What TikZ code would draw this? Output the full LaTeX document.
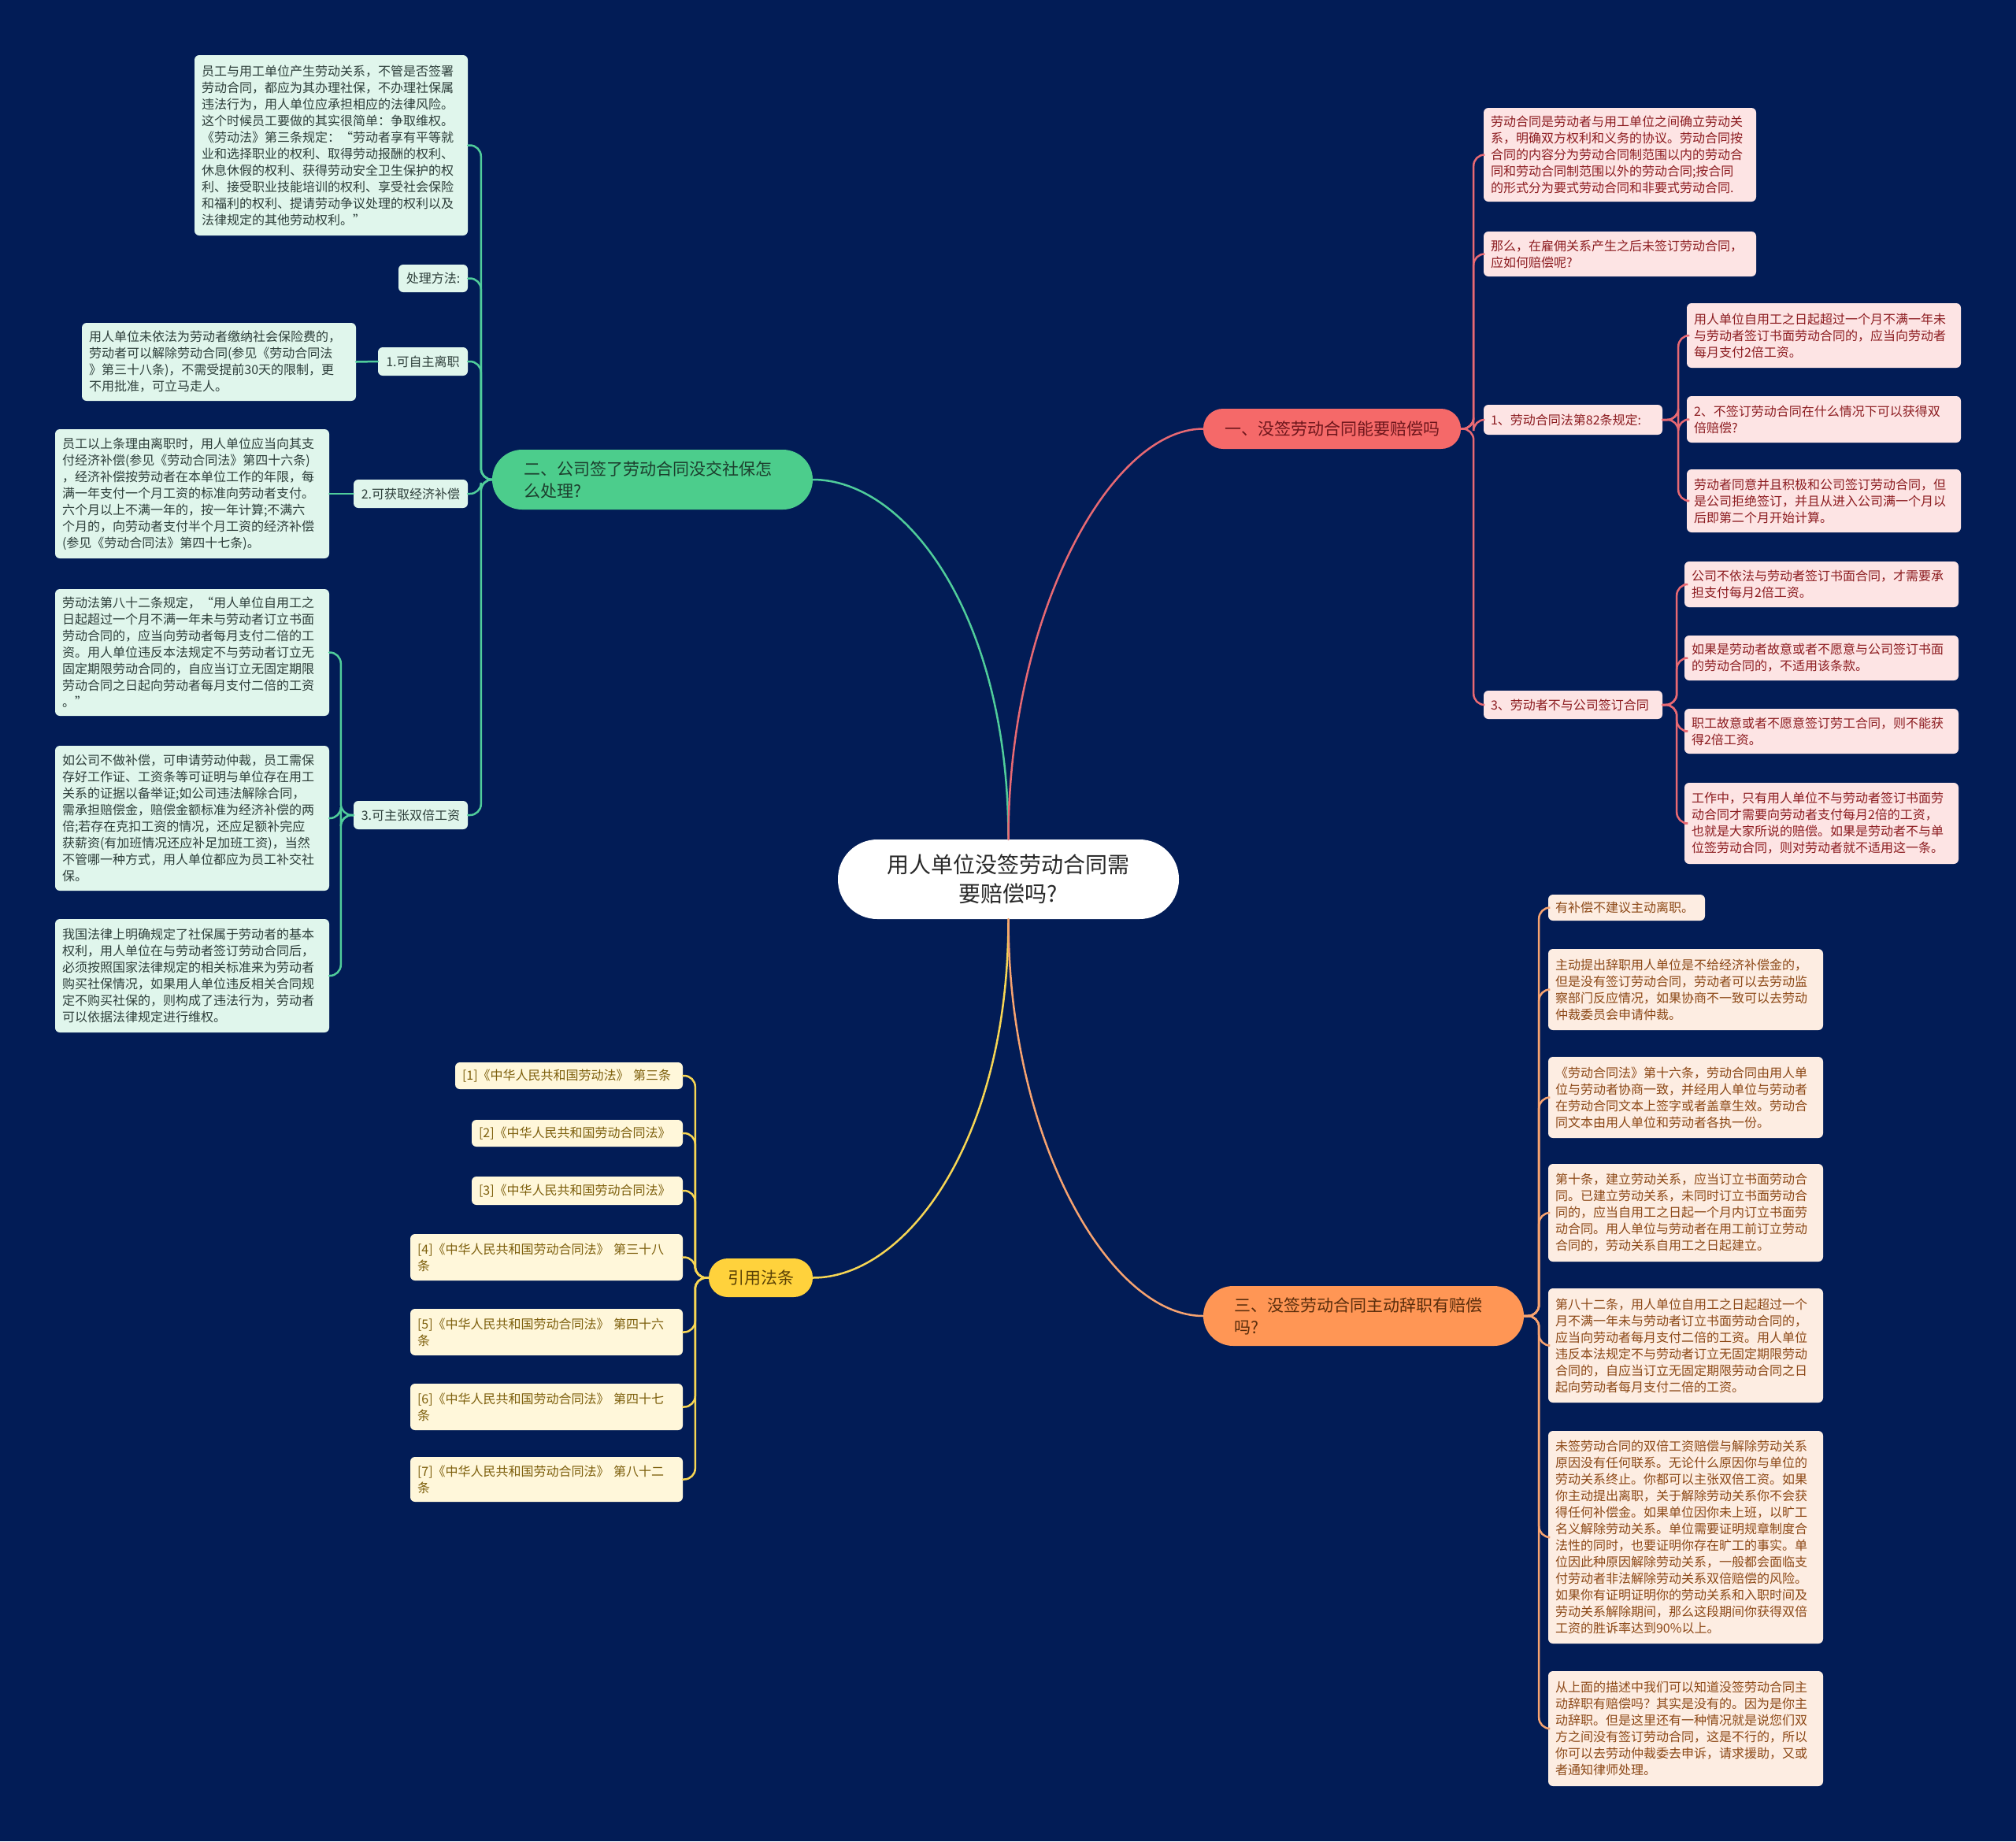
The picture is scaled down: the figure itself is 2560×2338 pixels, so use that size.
\documentclass[tikz,border=0pt]{standalone}
\usepackage{fontspec}
\setmainfont{Noto Sans CJK SC}
\definecolor{bgc}{RGB}{2,28,86}
\definecolor{gLine}{RGB}{80,205,155}
\definecolor{gMain}{RGB}{76,205,140}
\definecolor{gMainT}{RGB}{28,62,45}
\definecolor{gFill}{RGB}{224,246,236}
\definecolor{gText}{RGB}{45,62,58}
\definecolor{rLine}{RGB}{232,105,115}
\definecolor{rMain}{RGB}{245,105,105}
\definecolor{rMainT}{RGB}{110,22,28}
\definecolor{rFill}{RGB}{253,228,228}
\definecolor{rText}{RGB}{140,28,32}
\definecolor{oLine}{RGB}{247,163,112}
\definecolor{oMain}{RGB}{255,150,85}
\definecolor{oMainT}{RGB}{90,45,12}
\definecolor{oFill}{RGB}{253,237,226}
\definecolor{oText}{RGB}{140,72,22}
\definecolor{yLine}{RGB}{247,214,84}
\definecolor{yMain}{RGB}{255,210,60}
\definecolor{yMainT}{RGB}{90,65,5}
\definecolor{yFill}{RGB}{255,247,218}
\definecolor{yText}{RGB}{125,95,12}
\definecolor{cText}{RGB}{40,40,40}
\newcommand\BX[8]{%
  \pgfmathsetmacro\bxcx{(#3+#5)/2}%
  \pgfmathsetmacro\bxcy{(#4+#6)/2}%
  \pgfmathsetmacro\bxw{#5-#3}%
  \pgfmathsetmacro\bxh{#6-#4}%
  \pgfmathsetmacro\bxtw{#5-#3-2*#7}%
  \node[#2, inner xsep=#7pt, minimum width=\bxw pt, minimum height=\bxh pt, text width=\bxtw pt] (#1) at (\bxcx,\bxcy) {#8};}
\begin{document}
\begin{tikzpicture}[x=1pt,y=-1pt,
  leaf/.style={rounded corners=6pt, inner ysep=4pt, font=\fontsize{16}{21}\selectfont, align=left},
  leafG/.style={leaf, fill=gFill, text=gText},
  leafR/.style={leaf, fill=rFill, text=rText},
  leafO/.style={leaf, fill=oFill, text=oText},
  leafY/.style={leaf, fill=yFill, text=yText},
  mainN/.style={inner ysep=4pt, font=\fontsize{21}{28}\selectfont},
  mainG/.style={mainN, fill=gMain, text=gMainT, align=left},
  mainR/.style={mainN, fill=rMain, text=rMainT, align=center},
  mainO/.style={mainN, fill=oMain, text=oMainT, align=left},
  mainY/.style={mainN, fill=yMain, text=yMainT, align=center},
  centerN/.style={fill=white, text=cText, font=\fontsize{28}{37}\selectfont, align=center, inner ysep=4pt},
  conn/.style={line width=2.5pt, rounded corners=14pt, line cap=round},
  gl/.style={conn, draw=gLine},
  rl/.style={conn, draw=rLine},
  ol/.style={conn, draw=oLine},
  yl/.style={conn, draw=yLine}]
\fill[bgc] (0,0) rectangle (2560,2338);
\useasboundingbox (0,0) rectangle (2560,2338);

% centre and main branches
\BX{C}{centerN, rounded corners=50pt}{1064}{1066}{1497}{1167}{40}{用人单位没签劳动合同需\\要赔偿吗?}
\BX{G}{mainG, rounded corners=38pt}{625}{571}{1032}{647}{40}{二、公司签了劳动合同没交社保怎\\么处理?}
\BX{R}{mainR, rounded corners=25pt}{1528}{519}{1855}{570}{20}{一、没签劳动合同能要赔偿吗}
\BX{O}{mainO, rounded corners=38pt}{1528}{1633}{1935}{1709}{39}{三、没签劳动合同主动辞职有赔偿\\吗?}
\BX{Y}{mainY, rounded corners=24pt}{900}{1598}{1032}{1647}{12}{引用法条}

% green branch
\BX{gA}{leafG}{247}{70}{594}{299}{9}{员工与用工单位产生劳动关系，不管是否签署\\劳动合同，都应为其办理社保，不办理社保属\\违法行为，用人单位应承担相应的法律风险。\\这个时候员工要做的其实很简单：争取维权。\\《劳动法》第三条规定：“劳动者享有平等就\\业和选择职业的权利、取得劳动报酬的权利、\\休息休假的权利、获得劳动安全卫生保护的权\\利、接受职业技能培训的权利、享受社会保险\\和福利的权利、提请劳动争议处理的权利以及\\法律规定的其他劳动权利。”}
\BX{gH}{leafG, align=center}{506}{336}{594}{371}{4}{处理方法:}
\BX{gB}{leafG}{104}{410}{452}{509}{9}{用人单位未依法为劳动者缴纳社会保险费的，\\劳动者可以解除劳动合同(参见《劳动合同法\\》第三十八条)，不需受提前30天的限制，更\\不用批准，可立马走人。}
\BX{g1}{leafG, align=center}{480}{441}{594}{477}{4}{1.可自主离职}
\BX{gC}{leafG}{70}{545}{418}{709}{9}{员工以上条理由离职时，用人单位应当向其支\\付经济补偿(参见《劳动合同法》第四十六条)\\，经济补偿按劳动者在本单位工作的年限，每\\满一年支付一个月工资的标准向劳动者支付。\\六个月以上不满一年的，按一年计算;不满六\\个月的，向劳动者支付半个月工资的经济补偿\\(参见《劳动合同法》第四十七条)。}
\BX{g2}{leafG, align=center}{449}{609}{594}{645}{4}{2.可获取经济补偿}
\BX{gD}{leafG}{70}{748}{418}{909}{9}{劳动法第八十二条规定，“用人单位自用工之\\日起超过一个月不满一年未与劳动者订立书面\\劳动合同的，应当向劳动者每月支付二倍的工\\资。用人单位违反本法规定不与劳动者订立无\\固定期限劳动合同的，自应当订立无固定期限\\劳动合同之日起向劳动者每月支付二倍的工资\\。”}
\BX{gE}{leafG}{70}{947}{418}{1131}{9}{如公司不做补偿，可申请劳动仲裁，员工需保\\存好工作证、工资条等可证明与单位存在用工\\关系的证据以备举证;如公司违法解除合同，\\需承担赔偿金，赔偿金额标准为经济补偿的两\\倍;若存在克扣工资的情况，还应足额补完应\\获薪资(有加班情况还应补足加班工资)，当然\\不管哪一种方式，用人单位都应为员工补交社\\保。}
\BX{g3}{leafG, align=center}{449}{1017}{594}{1053}{4}{3.可主张双倍工资}
\BX{gF}{leafG}{70}{1167}{418}{1311}{9}{我国法律上明确规定了社保属于劳动者的基本\\权利，用人单位在与劳动者签订劳动合同后，\\必须按照国家法律规定的相关标准来为劳动者\\购买社保情况，如果用人单位违反相关合同规\\定不购买社保的，则构成了违法行为，劳动者\\可以依据法律规定进行维权。}

% red branch
\BX{r1}{leafR}{1884}{137}{2230}{256}{9}{劳动合同是劳动者与用工单位之间确立劳动关\\系，明确双方权利和义务的协议。劳动合同按\\合同的内容分为劳动合同制范围以内的劳动合\\同和劳动合同制范围以外的劳动合同;按合同\\的形式分为要式劳动合同和非要式劳动合同.}
\BX{r2}{leafR}{1884}{294}{2230}{351}{9}{那么，在雇佣关系产生之后未签订劳动合同，\\应如何赔偿呢?}
\BX{r82}{leafR}{1884}{514}{2111}{552}{9}{1、劳动合同法第82条规定:}
\BX{r82a}{leafR}{2142}{385}{2490}{467}{9}{用人单位自用工之日起超过一个月不满一年未\\与劳动者签订书面劳动合同的，应当向劳动者\\每月支付2倍工资。}
\BX{r82b}{leafR}{2142}{503}{2490}{562}{9}{2、不签订劳动合同在什么情况下可以获得双\\倍赔偿?}
\BX{r82c}{leafR}{2142}{596}{2490}{676}{9}{劳动者同意并且积极和公司签订劳动合同，但\\是公司拒绝签订，并且从进入公司满一个月以\\后即第二个月开始计算。}
\BX{r3}{leafR}{1884}{877}{2111}{913}{9}{3、劳动者不与公司签订合同}
\BX{r3a}{leafR}{2139}{713}{2487}{771}{9}{公司不依法与劳动者签订书面合同，才需要承\\担支付每月2倍工资。}
\BX{r3b}{leafR}{2139}{807}{2487}{864}{9}{如果是劳动者故意或者不愿意与公司签订书面\\的劳动合同的，不适用该条款。}
\BX{r3c}{leafR}{2139}{900}{2487}{957}{9}{职工故意或者不愿意签订劳工合同，则不能获\\得2倍工资。}
\BX{r3d}{leafR}{2139}{994}{2487}{1097}{9}{工作中，只有用人单位不与劳动者签订书面劳\\动合同才需要向劳动者支付每月2倍的工资，\\也就是大家所说的赔偿。如果是劳动者不与单\\位签劳动合同，则对劳动者就不适用这一条。}

% orange branch
\BX{o1}{leafO}{1966}{1136}{2165}{1169}{9}{有补偿不建议主动离职。}
\BX{o2}{leafO}{1966}{1205}{2315}{1308}{9}{主动提出辞职用人单位是不给经济补偿金的，\\但是没有签订劳动合同，劳动者可以去劳动监\\察部门反应情况，如果协商不一致可以去劳动\\仲裁委员会申请仲裁。}
\BX{o3}{leafO}{1966}{1342}{2315}{1445}{9}{《劳动合同法》第十六条，劳动合同由用人单\\位与劳动者协商一致，并经用人单位与劳动者\\在劳动合同文本上签字或者盖章生效。劳动合\\同文本由用人单位和劳动者各执一份。}
\BX{o4}{leafO}{1966}{1478}{2315}{1602}{9}{第十条，建立劳动关系，应当订立书面劳动合\\同。已建立劳动关系，未同时订立书面劳动合\\同的，应当自用工之日起一个月内订立书面劳\\动合同。用人单位与劳动者在用工前订立劳动\\合同的，劳动关系自用工之日起建立。}
\BX{o5}{leafO}{1966}{1636}{2315}{1781}{9}{第八十二条，用人单位自用工之日起超过一个\\月不满一年未与劳动者订立书面劳动合同的，\\应当向劳动者每月支付二倍的工资。用人单位\\违反本法规定不与劳动者订立无固定期限劳动\\合同的，自应当订立无固定期限劳动合同之日\\起向劳动者每月支付二倍的工资。}
\BX{o6}{leafO}{1966}{1817}{2315}{2087}{9}{未签劳动合同的双倍工资赔偿与解除劳动关系\\原因没有任何联系。无论什么原因你与单位的\\劳动关系终止。你都可以主张双倍工资。如果\\你主动提出离职，关于解除劳动关系你不会获\\得任何补偿金。如果单位因你未上班，以旷工\\名义解除劳动关系。单位需要证明规章制度合\\法性的同时，也要证明你存在旷工的事实。单\\位因此种原因解除劳动关系，一般都会面临支\\付劳动者非法解除劳动关系双倍赔偿的风险。\\如果你有证明证明你的劳动关系和入职时间及\\劳动关系解除期间，那么这段期间你获得双倍\\工资的胜诉率达到90\%以上。}
\BX{o7}{leafO}{1966}{2122}{2315}{2268}{9}{从上面的描述中我们可以知道没签劳动合同主\\动辞职有赔偿吗？其实是没有的。因为是你主\\动辞职。但是这里还有一种情况就是说您们双\\方之间没有签订劳动合同，这是不行的，所以\\你可以去劳动仲裁委去申诉，请求援助，又或\\者通知律师处理。}

% yellow branch
\BX{y1}{leafY}{578}{1349}{867}{1383}{9}{[1]《中华人民共和国劳动法》 第三条}
\BX{y2}{leafY}{599}{1422}{867}{1456}{9}{[2]《中华人民共和国劳动合同法》}
\BX{y3}{leafY}{599}{1494}{867}{1530}{9}{[3]《中华人民共和国劳动合同法》}
\BX{y4}{leafY}{521}{1567}{867}{1626}{9}{[4]《中华人民共和国劳动合同法》 第三十八\\条}
\BX{y5}{leafY}{521}{1662}{867}{1721}{9}{[5]《中华人民共和国劳动合同法》 第四十六\\条}
\BX{y6}{leafY}{521}{1757}{867}{1816}{9}{[6]《中华人民共和国劳动合同法》 第四十七\\条}
\BX{y7}{leafY}{521}{1850}{867}{1907}{9}{[7]《中华人民共和国劳动合同法》 第八十二\\条}

% main connectors
\draw[gl] (C.north) .. controls (1280.5,780) and (1150,609) .. (G.east);
\draw[rl] (C.north) .. controls (1280.5,780) and (1410,544.5) .. (R.west);
\draw[yl] (C.south) .. controls (1280.5,1450) and (1150,1622.5) .. (Y.east);
\draw[ol] (C.south) .. controls (1280.5,1450) and (1410,1671) .. (O.west);

% green connectors
\foreach \c in {gA,gH,g1,g2,g3} \draw[gl] (G.west) -- ++(-14,0) |- (\c.east);
\draw[gl] (g1.west) -- (gB.east);
\draw[gl] (g2.west) -- (gC.east);
\foreach \c in {gD,gE,gF} \draw[gl] (g3.west) -- ++(-16,0) |- (\c.east);

% red connectors
\foreach \c in {r1,r2,r82,r3} \draw[rl] (R.east) -- ++(16,0) |- (\c.west);
\foreach \c in {r82a,r82b,r82c} \draw[rl] (r82.east) -- ++(20,0) |- (\c.west);
\foreach \c in {r3a,r3b,r3c,r3d} \draw[rl] (r3.east) -- ++(18,0) |- (\c.west);

% orange connectors
\foreach \c in {o1,o2,o3,o4,o5,o6,o7} \draw[ol] (O.east) -- ++(19,0) |- (\c.west);

% yellow connectors
\foreach \c in {y1,y2,y3,y4,y5,y6,y7} \draw[yl] (Y.west) -- ++(-17,0) |- (\c.east);
\end{tikzpicture}
\end{document}
